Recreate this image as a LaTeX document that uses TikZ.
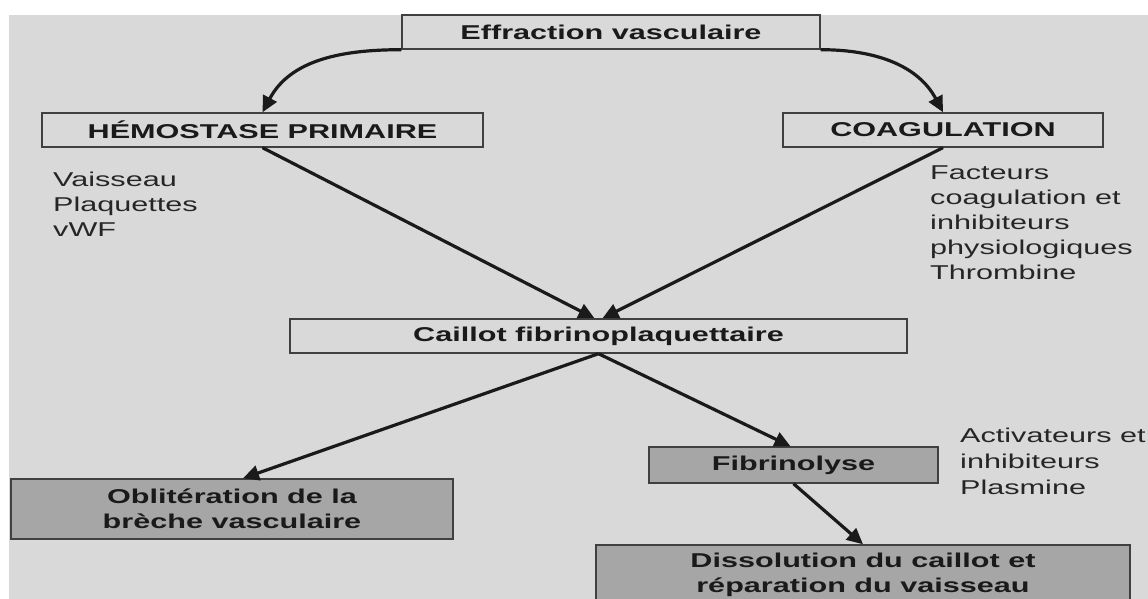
\documentclass[tikz,border=0pt]{standalone}
\usepackage{fontspec}
\setmainfont{Liberation Sans}[FakeStretch=1.53]
\usetikzlibrary{arrows.meta}
\definecolor{bggray}{HTML}{D9D9D9}
\definecolor{boxgray}{HTML}{A6A6A6}
\definecolor{inkgray}{HTML}{1A1A1A}

\begin{document}
\begin{tikzpicture}[x=1pt, y=1pt,
    box/.style={draw=black!75, line width=1.4pt, minimum height=34pt, inner sep=0pt,
      align=center, text=inkgray, font=\bfseries\fontsize{20}{25}\selectfont},
    darkbox/.style={box, fill=boxgray},
    note/.style={anchor=north west, inner sep=0pt, align=left, text=black!85,
      font=\fontsize{20}{25}\selectfont},
    link/.style={draw=inkgray, line width=3.2pt, -{Triangle[length=16pt, width=15pt]}}]
  \useasboundingbox (0,0) rectangle (1148,599);
  \fill[bggray] (9,0) rectangle (1148,584);

  % boxes
  \node[box, minimum width=418pt] (eff) at (611,567) {Effraction vasculaire};
  \node[box, minimum width=441pt] (hem) at (262.5,469) {HÉMOSTASE PRIMAIRE};
  \node[box, minimum width=320pt] (coag) at (943,469) {COAGULATION};
  \node[box, minimum width=617pt] (cail) at (598.5,263) {Caillot fibrinoplaquettaire};
  \node[darkbox, minimum width=442pt, minimum height=60pt] (obl) at (232,90) {Oblitération de la\\brèche vasculaire};
  \node[darkbox, minimum width=289pt, minimum height=36pt] (fib) at (793.5,134) {Fibrinolyse};
  \node[darkbox, minimum width=534pt, minimum height=60pt] (dis) at (863,24) {Dissolution du caillot et\\réparation du vaisseau};

  % side notes
  \node[note] (hemnote) at (53,427) {Vaisseau\\Plaquettes\\vWF};
  \node[note] (coagnote) at (930,433) {Facteurs\\coagulation et\\inhibiteurs\\physiologiques\\Thrombine};
  \node[note, font=\fontsize{20}{26}\selectfont] (fibnote) at (960,171) {Activateurs et\\inhibiteurs\\Plasmine};

  % arrows
  \draw[link] (eff.south west) to[out=180, in=62] (hem.north);
  \draw[link] (eff.south east) to[out=0, in=118] (coag.north);
  \draw[link] (hem.south) -- ([xshift=-4pt]cail.north);
  \draw[link] (coag.south) -- ([xshift=4pt]cail.north);
  \draw[link] (cail.south) -- ([xshift=11pt]obl.north);
  \draw[link] (cail.south) -- ([xshift=-3pt]fib.north);
  \draw[link] (fib.south) -- (dis.north);
\end{tikzpicture}
\end{document}
